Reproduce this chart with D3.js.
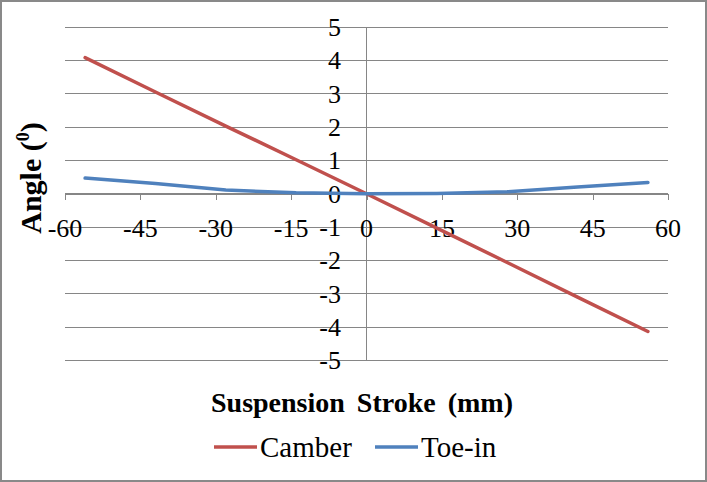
<!DOCTYPE html>
<html>
<head>
<meta charset="utf-8">
<script src="https://cdn.jsdelivr.net/npm/d3@7"></script>
<style>
  html, body { margin: 0; padding: 0; background: #fff; }
  svg { display: block; }
</style>
</head>
<body>
<svg id="chart" width="707" height="482"></svg>
<script>
// ---- data ----
const strokeMM = [-56, -42, -28, -14, 0, 14, 28, 42, 56];
const camber   = [4.08, 3.05, 2.03, 1.02, 0, -1.03, -2.06, -3.10, -4.13];
const toeIn    = [0.47, 0.31, 0.11, 0.03, 0, 0.01, 0.06, 0.20, 0.34];
const xTicks   = [-60, -45, -30, -15, 0, 15, 30, 45, 60];
const yTicks   = [-5, -4, -3, -2, -1, 0, 1, 2, 3, 4, 5];
const seriesNames = ["Camber", "Toe-in"];
const seriesColors = ["#C0504D", "#4F81BD"];

const FONT = "'Liberation Serif', 'Times New Roman', serif";
const svg = d3.select("#chart");
const W = 707, H = 482;

// border
svg.append("rect").attr("x", 1).attr("y", 1).attr("width", W - 2).attr("height", H - 2)
  .attr("fill", "#fff").attr("stroke", "#898989").attr("stroke-width", 2);

const x = d3.scaleLinear().domain([-60, 60]).range([65, 668]);
const y = d3.scaleLinear().domain([-5, 5]).range([360.5, 27]);
const grid = "#868686";

// horizontal gridlines
svg.append("g").selectAll("line").data(yTicks).join("line")
  .attr("x1", x(-60)).attr("x2", x(60))
  .attr("y1", d => y(d)).attr("y2", d => y(d))
  .attr("stroke", grid).attr("stroke-width", 1).attr("shape-rendering", "crispEdges");

// vertical axis at x=0
svg.append("line").attr("x1", x(0)).attr("x2", x(0)).attr("y1", y(5)).attr("y2", y(-5))
  .attr("stroke", grid).attr("stroke-width", 1).attr("shape-rendering", "crispEdges");

// x axis at y=0 with ticks downward
const xAxis = d3.axisBottom(x).tickValues(xTicks).tickSize(6).tickFormat("");
const gx = svg.append("g").attr("transform", `translate(0,${y(0)})`).call(xAxis);
gx.selectAll("path, line").attr("stroke", grid).attr("shape-rendering", "crispEdges");

// x tick labels
svg.append("g").selectAll("text").data(xTicks).join("text")
  .attr("x", d => x(d)).attr("y", 237)
  .attr("text-anchor", "middle")
  .attr("font-family", FONT).attr("font-size", 26).attr("fill", "#000")
  .text(d => d);

// y tick labels
svg.append("g").selectAll("text").data(yTicks).join("text")
  .attr("x", 341).attr("y", d => y(d)).attr("dy", "0.34em")
  .attr("text-anchor", "end")
  .attr("font-family", FONT).attr("font-size", 26).attr("fill", "#000")
  .text(d => d);

// series lines
const line = d3.line().x(d => x(d[0])).y(d => y(d[1]));
[camber, toeIn].forEach((vals, i) => {
  svg.append("path")
    .datum(strokeMM.map((s, j) => [s, vals[j]]))
    .attr("d", line)
    .attr("fill", "none")
    .attr("stroke", seriesColors[i])
    .attr("stroke-width", 3.5)
    .attr("stroke-linecap", "round")
    .attr("stroke-linejoin", "round");
});

// y axis title
const yt = svg.append("text")
  .attr("transform", "translate(41,178) rotate(-90)")
  .attr("text-anchor", "middle")
  .attr("font-family", FONT).attr("font-size", 30).attr("font-weight", "bold").attr("fill", "#000");
yt.append("tspan").text("Angle (");
yt.append("tspan").attr("font-size", 18).attr("dy", "-12").text("0");
yt.append("tspan").attr("dy", "12").text(")");

// x axis title
svg.append("text")
  .attr("x", 362).attr("y", 412)
  .attr("text-anchor", "middle")
  .attr("font-family", FONT).attr("font-size", 28).attr("font-weight", "bold")
  .attr("word-spacing", 5).attr("fill", "#000")
  .text("Suspension Stroke (mm)");

// legend
const legX = [214, 375];
seriesNames.forEach((name, i) => {
  svg.append("line").attr("x1", legX[i]).attr("x2", legX[i] + 43)
    .attr("y1", 447).attr("y2", 447)
    .attr("stroke", seriesColors[i]).attr("stroke-width", 3.5);
  svg.append("text").attr("x", legX[i] + 46).attr("y", 457)
    .attr("font-family", FONT).attr("font-size", 29).attr("fill", "#000")
    .text(name);
});
</script>
</body>
</html>
